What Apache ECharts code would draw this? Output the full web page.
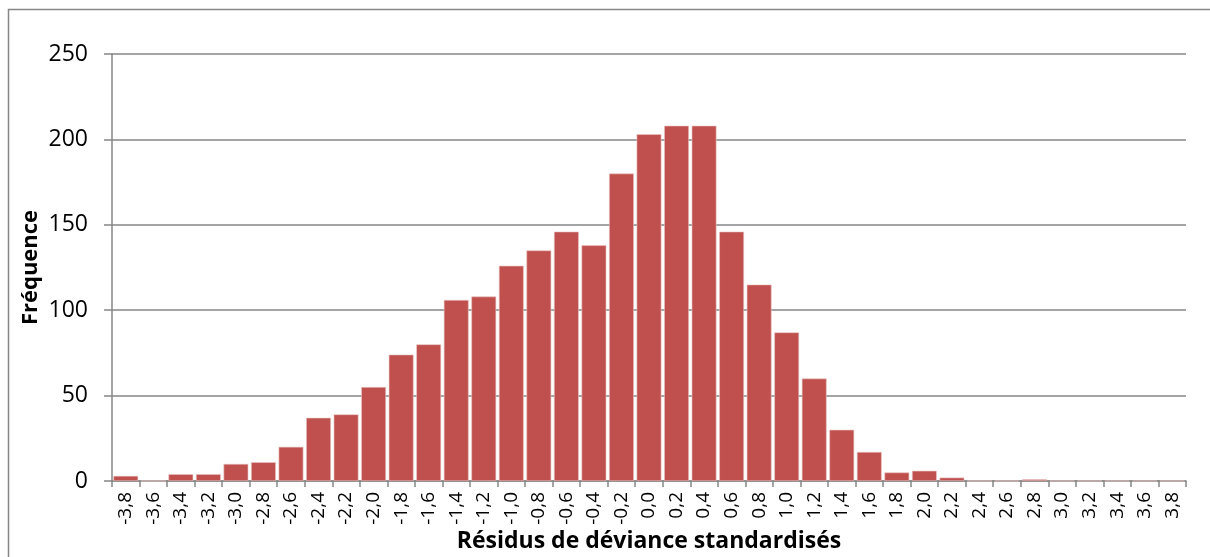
<!DOCTYPE html>
<html>
<head>
<meta charset="utf-8">
<script src="https://cdn.jsdelivr.net/npm/echarts@6/dist/echarts.min.js"></script>
<style>
  html, body { margin: 0; padding: 0; background: #fff; }
  #chart { width: 1210px; height: 557px; }
</style>
</head>
<body>
<div id="chart"></div>
<script>
// Histogram bins (class centres) of standardised deviance residuals
const categories = ['-3,8','-3,6','-3,4','-3,2','-3,0','-2,8','-2,6','-2,4','-2,2','-2,0',
  '-1,8','-1,6','-1,4','-1,2','-1,0','-0,8','-0,6','-0,4','-0,2','0,0',
  '0,2','0,4','0,6','0,8','1,0','1,2','1,4','1,6','1,8','2,0',
  '2,2','2,4','2,6','2,8','3,0','3,2','3,4','3,6','3,8'];

// Count of observations in each bin
const frequencies = [3, 0, 4, 4, 10, 11, 20, 37, 39, 55,
  74, 80, 106, 108, 126, 135, 146, 138, 180, 203,
  208, 208, 146, 115, 87, 60, 30, 17, 5, 6,
  2, 0, 0, 1, 0, 0, 0, 0, 0];

const yTicks = { min: 0, max: 250, interval: 50 };

const axisGrey = '#868686';
const font = '"Open Sans", "Noto Sans", sans-serif';

const chart = echarts.init(document.getElementById('chart'), null, { renderer: 'canvas' });

chart.setOption({
  animation: false,
  backgroundColor: '#ffffff',
  graphic: [{
    type: 'rect',
    shape: { x: 8.5, y: 9.5, width: 1300, height: 700 },
    style: { fill: 'none', stroke: axisGrey, lineWidth: 1.5 },
    silent: true
  }],
  grid: {
    left: 112, right: 24, top: 54, bottom: 76,
    containLabel: false,
    outerBoundsMode: 'none'
  },
  xAxis: {
    type: 'category',
    data: categories,
    boundaryGap: true,
    name: 'Résidus de déviance standardisés',
    nameLocation: 'middle',
    nameGap: 49,
    nameMoveOverlap: false,
    nameTextStyle: { fontFamily: font, fontWeight: 'bold', fontSize: 23, color: '#000' },
    axisLine: { lineStyle: { color: axisGrey, width: 1.5 } },
    axisTick: { show: true, interval: 0, length: 6, lineStyle: { color: axisGrey, width: 1.5 } },
    axisLabel: {
      interval: 0, rotate: 90, margin: 11,
      fontFamily: font, fontSize: 19, color: '#000'
    },
    splitLine: { show: false }
  },
  yAxis: {
    type: 'value',
    min: yTicks.min, max: yTicks.max, interval: yTicks.interval,
    name: 'Fréquence',
    nameLocation: 'middle',
    nameGap: 70,
    nameMoveOverlap: false,
    nameRotate: 90,
    nameTextStyle: { fontFamily: font, fontWeight: 'bold', fontSize: 22, color: '#000' },
    axisLine: { show: true, lineStyle: { color: axisGrey, width: 1.5 } },
    axisTick: { show: true, length: 8, lineStyle: { color: axisGrey, width: 1.5 } },
    axisLabel: { margin: 24, fontFamily: font, fontSize: 23, color: '#000' },
    splitLine: { show: true, lineStyle: { color: axisGrey, width: 1.5 } }
  },
  series: [{
    type: 'bar',
    data: frequencies,
    barCategoryGap: '10%',
    itemStyle: { color: '#C0504D', borderColor: '#e8c4c3', borderWidth: 0.6 }
  }]
});
</script>
</body>
</html>
